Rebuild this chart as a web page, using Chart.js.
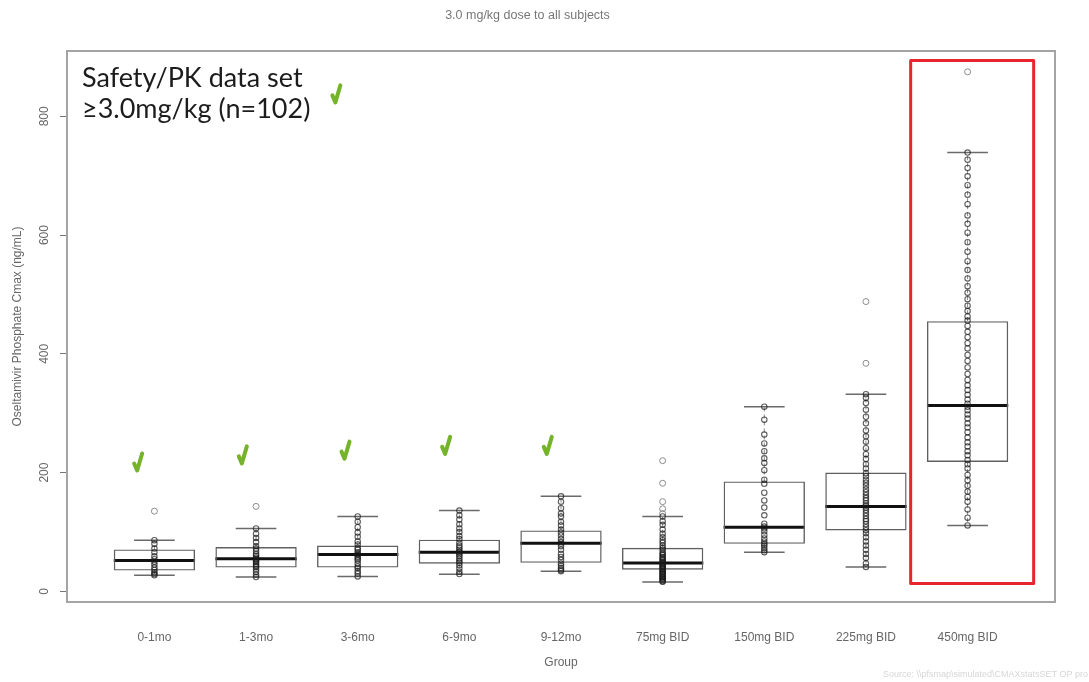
<!DOCTYPE html>
<html>
<head>
<meta charset="utf-8">
<script src="https://cdn.jsdelivr.net/npm/chart.js@4.4.1/dist/chart.umd.min.js"></script>
<style>
  html, body { margin: 0; padding: 0; background: #fff; }
  #wrap { width: 1089px; height: 682px; }
</style>
</head>
<body>
<div id="wrap"><canvas id="cmax" width="1089" height="682"></canvas></div>
<script>
// groups and box statistics (ng/mL)
const groups = ['0-1mo', '1-3mo', '3-6mo', '6-9mo', '9-12mo', '75mg BID', '150mg BID', '225mg BID', '450mg BID'];
const whiskerLow  = [27, 24, 25, 28.6, 34, 15.6, 66, 41, 111];
const q1          = [35, 40, 40, 46.5, 48, 36.5, 80, 102.5, 218];
const median      = [52, 55, 62, 66, 81, 47.6, 108, 143, 313];
const q3          = [70.6, 74.5, 77, 87, 102.5, 73.4, 185, 200, 455];
const whiskerHigh = [86, 106, 126, 136, 160, 126, 311, 332, 739];
const outliers = [[135], [143], [], [], [], [131, 139, 151, 182, 220], [], [384, 488], [875]];

// individual subject values plotted over each box
const observed = [
  [27, 29, 32, 36, 40, 45, 50, 54, 59, 66, 72, 80, 86],
  [24, 28, 33, 37, 41, 43, 46, 49, 51, 53, 55, 57, 60, 63, 68, 72, 76, 83, 90, 97, 106],
  [25, 30, 34, 39, 42, 47, 52, 55, 58, 61, 63, 66, 70, 73, 79, 84, 92, 99, 108, 117, 126],
  [29, 33, 39, 44, 48, 51, 55, 59, 62, 65, 67, 70, 74, 77, 82, 88, 93, 100, 106, 113, 121, 128, 136],
  [34, 36, 39, 43, 47, 53, 58, 63, 70, 76, 80, 83, 88, 94, 99, 104, 111, 117, 126, 131, 140, 151, 160],
  [16, 17, 19, 21, 22, 24, 25, 27, 29, 30, 32, 33, 35, 37, 38, 40, 42, 43, 45, 47, 48, 50, 52, 54, 56, 58, 61, 63, 66, 70, 73, 77, 82, 86, 91, 97, 104, 112, 118, 126],
  [66, 69, 73, 77, 80, 84, 89, 95, 101, 106, 109, 114, 128, 141, 153, 166, 181, 188, 204, 216, 224, 236, 249, 264, 289, 311],
  [41, 47, 56, 63, 70, 77, 84, 91, 98, 103, 108, 113, 118, 122, 127, 132, 137, 141, 144, 148, 153, 157, 162, 167, 172, 178, 183, 188, 194, 199, 207, 214, 223, 231, 241, 252, 261, 271, 283, 294, 306, 317, 326, 332],
  [111, 124, 138, 151, 159, 168, 178, 187, 196, 207, 214, 221, 229, 236, 244, 251, 259, 268, 276, 283, 291, 298, 305, 311, 316, 323, 331, 339, 347, 356, 366, 377, 388, 398, 409, 418, 428, 437, 447, 456, 463, 472, 481, 492, 503, 514, 527, 541, 556, 572, 588, 604, 619, 633, 652, 668, 684, 699, 713, 727, 739]
];

const yTicks = [0, 200, 400, 600, 800];

// hand-drawn marks layered on the plot (x in group units, y in ng/mL)
const checkX = [0.84, 1.87, 2.88, 3.87, 4.87, 2.79];
const checkY = [217, 229, 237, 245, 245, 837];
const highlight = { from: 8.44, to: 9.65, low: 13, high: 894 };

Chart.defaults.font.family = "'Liberation Sans', Arial, sans-serif";
Chart.defaults.color = '#666';

const boxData = groups.map((g, i) => ({ x: i + 1, y: [q1[i], q3[i]] }));
const pointData = [];
observed.forEach((vals, i) => vals.forEach(v => pointData.push({ x: i + 1, y: v })));
const outlierData = [];
outliers.forEach((vals, i) => vals.forEach(v => outlierData.push({ x: i + 1, y: v })));

const boxParts = {
  id: 'boxParts',
  beforeDatasetsDraw(chart) {
    const { ctx, scales: { x, y } } = chart;
    const unit = x.getPixelForValue(2) - x.getPixelForValue(1);
    ctx.save();
    groups.forEach((g, i) => {
      const cx = x.getPixelForValue(i + 1);
      ctx.setLineDash([4, 3]);
      ctx.strokeStyle = '#888';
      ctx.lineWidth = 1;
      ctx.beginPath();
      ctx.moveTo(cx, y.getPixelForValue(q3[i]));
      ctx.lineTo(cx, y.getPixelForValue(whiskerHigh[i]));
      ctx.moveTo(cx, y.getPixelForValue(q1[i]));
      ctx.lineTo(cx, y.getPixelForValue(whiskerLow[i]));
      ctx.stroke();
      ctx.setLineDash([]);
      ctx.strokeStyle = '#6a6a6a';
      ctx.lineWidth = 1.5;
      ctx.beginPath();
      [whiskerLow[i], whiskerHigh[i]].forEach(v => {
        const py = y.getPixelForValue(v);
        ctx.moveTo(cx - unit * 0.2, py);
        ctx.lineTo(cx + unit * 0.2, py);
      });
      ctx.stroke();
      ctx.strokeStyle = '#111';
      ctx.lineWidth = 3;
      ctx.beginPath();
      const my = y.getPixelForValue(median[i]);
      ctx.moveTo(cx - unit * 0.4, my);
      ctx.lineTo(cx + unit * 0.4, my);
      ctx.stroke();
    });
    ctx.restore();
  }
};

const overlay = {
  id: 'overlay',
  afterDraw(chart) {
    const { ctx, chartArea: a, scales: { x, y } } = chart;
    ctx.save();
    // plot frame
    ctx.strokeStyle = '#a4a4a4';
    ctx.lineWidth = 2;
    ctx.strokeRect(a.left, a.top, a.right - a.left, a.bottom - a.top);

    // y tick labels, written along the axis
    ctx.fillStyle = '#666';
    ctx.font = "12px 'Liberation Sans', Arial, sans-serif";
    ctx.textAlign = 'center';
    ctx.textBaseline = 'middle';
    yTicks.forEach(t => {
      ctx.save();
      ctx.translate(45, y.getPixelForValue(t));
      ctx.rotate(-Math.PI / 2);
      ctx.fillText(String(t), 0, 0);
      ctx.restore();
    });

    // data set note
    ctx.fillStyle = '#1c1c1c';
    ctx.font = "27px Lato, 'Open Sans', sans-serif";
    ctx.textAlign = 'left';
    ctx.textBaseline = 'alphabetic';
    ctx.fillText('Safety/PK data set', a.left + 15, a.top + 36);
    ctx.fillText('\u22653.0mg/kg (n=102)', a.left + 15, a.top + 67);

    // green check marks
    ctx.strokeStyle = '#74b32a';
    ctx.lineWidth = 4;
    ctx.lineCap = 'round';
    ctx.lineJoin = 'round';
    checkX.forEach((cxv, i) => {
      const px = x.getPixelForValue(cxv);
      const py = y.getPixelForValue(checkY[i]);
      ctx.beginPath();
      ctx.moveTo(px - 4, py + 1);
      ctx.lineTo(px - 1, py + 8);
      ctx.lineTo(px + 4, py - 9);
      ctx.stroke();
    });

    // red outline around the 450mg group
    ctx.strokeStyle = '#e8252c';
    ctx.lineWidth = 3;
    const hx1 = x.getPixelForValue(highlight.from), hx2 = x.getPixelForValue(highlight.to);
    const hy1 = y.getPixelForValue(highlight.high), hy2 = y.getPixelForValue(highlight.low);
    ctx.strokeRect(hx1, hy1, hx2 - hx1, hy2 - hy1);

    // source footnote
    ctx.fillStyle = '#d6d6d6';
    ctx.font = "9px 'Liberation Sans', Arial, sans-serif";
    ctx.textAlign = 'right';
    ctx.fillText('Source: \\\\pfsmap\\simulated\\CMAXstatsSET OP pro', 1088, 677);
    ctx.restore();
  }
};

new Chart(document.getElementById('cmax'), {
  type: 'bar',
  data: {
    datasets: [
      {
        type: 'scatter',
        data: pointData,
        pointStyle: 'circle',
        pointRadius: 2.7,
        pointBorderWidth: 1.1,
        pointBorderColor: 'rgba(25,25,25,0.7)',
        pointBackgroundColor: 'rgba(0,0,0,0)'
      },
      {
        type: 'scatter',
        data: outlierData,
        pointStyle: 'circle',
        pointRadius: 3,
        pointBorderWidth: 1,
        pointBorderColor: '#8c8c8c',
        pointBackgroundColor: 'rgba(0,0,0,0)'
      },
      {
        type: 'bar',
        data: boxData,
        backgroundColor: 'rgba(255,255,255,0)',
        borderColor: '#606060',
        borderWidth: 1.4,
        borderSkipped: false,
        categoryPercentage: 1,
        barPercentage: 0.8
      }
    ]
  },
  options: {
    responsive: false,
    animation: false,
    devicePixelRatio: 1,
    layout: { padding: { top: 0, right: 34, bottom: 0, left: 0 } },
    plugins: {
      legend: { display: false },
      tooltip: { enabled: false },
      title: {
        display: true,
        text: '3.0 mg/kg dose to all subjects',
        color: '#777',
        font: { size: 12.5, weight: 'normal' },
        padding: { top: 8, bottom: 28 }
      }
    },
    scales: {
      x: {
        type: 'linear',
        min: 0.14,
        max: 9.86,
        offset: false,
        afterBuildTicks: s => { s.ticks = groups.map((g, i) => ({ value: i + 1 })); },
        afterFit: s => { s.height = 80; },
        grid: { display: false, drawTicks: false, offset: false },
        border: { display: false },
        ticks: {
          autoSkip: false,
          maxRotation: 0,
          padding: 28,
          color: '#666',
          font: { size: 12 },
          callback: v => groups[v - 1]
        },
        title: { display: true, text: 'Group', color: '#666', font: { size: 12 }, padding: { top: 0, bottom: 12 } }
      },
      y: {
        min: -18,
        max: 910,
        afterBuildTicks: s => { s.ticks = yTicks.map(v => ({ value: v })); },
        afterFit: s => { s.width = 67; },
        grid: { drawOnChartArea: false, drawTicks: true, tickLength: 7, color: '#777', lineWidth: 1 },
        border: { display: false },
        ticks: { display: false },
        title: { display: true, text: 'Oseltamivir Phosphate Cmax (ng/mL)', color: '#666', font: { size: 12 }, padding: { top: 10, bottom: 0 } }
      }
    }
  },
  plugins: [boxParts, overlay]
});
</script>
</body>
</html>
